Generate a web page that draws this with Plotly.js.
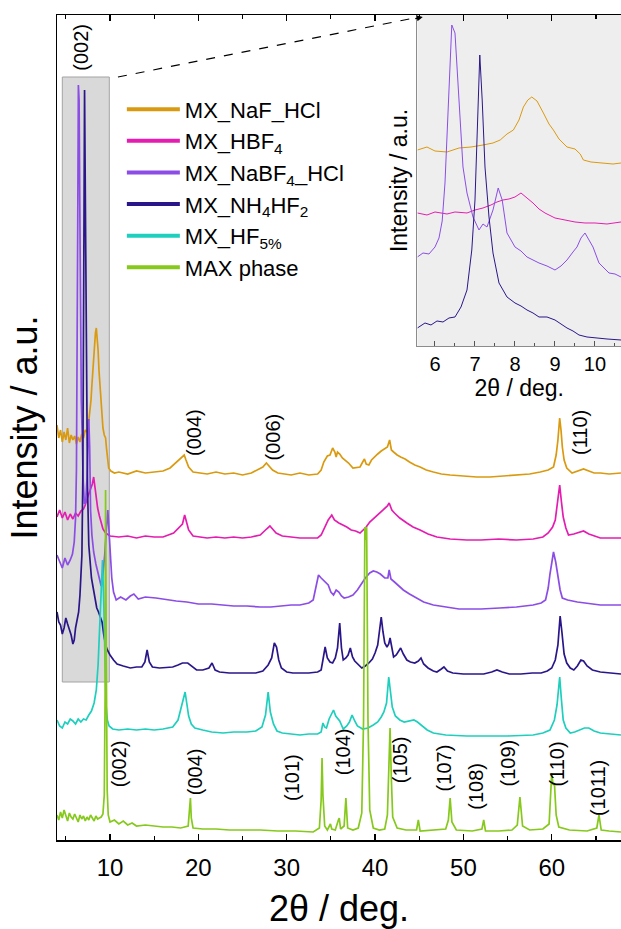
<!DOCTYPE html>
<html><head><meta charset="utf-8">
<script src="https://cdn.plot.ly/plotly-3.0.1.min.js"></script>
<style>html,body{margin:0;padding:0;background:#fff}#chart{width:621px;height:929px}</style>
</head><body><div id="chart"></div>
<script>
// ---------- main panel: 2θ (deg) and stacked intensity (a.u., offsets included) ----------
const tthNaF = [4.0,4.2,4.4,4.6,4.8,5.0,5.2,5.4,5.6,5.8,6.0,6.2,6.4,6.6,6.8,7.0,7.2,7.4,7.55,7.7,7.85,7.95,8.05,8.15,8.25,8.35,8.45,8.55,8.65,8.75,8.9,9.05,9.2,9.35,9.5,9.6,9.7,9.85,10.1,10.5,11,12,13,14,15,16,16.8,17.5,18.1,18.4,18.6,18.9,19.4,20,21,22,23,24,25,26,26.7,27.3,27.7,28.0,28.4,29.0,29.6,30.5,31.5,32.5,33.5,33.9,34.2,34.6,34.9,35.2,35.45,35.6,35.75,36.0,36.3,36.6,37.0,37.5,38.0,38.3,38.6,38.8,39.0,39.3,39.6,39.9,40.3,40.7,41.1,41.4,41.65,41.85,42.1,42.5,42.9,43.4,43.9,44.5,45.1,45.8,46.6,47.5,48.5,50,51.5,53,54.5,56,57.5,58.7,59.6,60.2,60.5,60.7,60.9,61.05,61.2,61.4,61.7,62.3,62.9,63.6,64.2,64.8,65.5,66.5,67.84];
const intNaF = [415,402,410,398,408,400,412,397,405,400,404,396,403,398,406,402,410,408,415,427,440,455,468,488,500,507,512,502,490,470,448,430,412,405,402,392,380,372,369,367,368,366,369,367,368,369,372,378,383,385,380,373,368,367,366,368,366,367,365,367,370,373,377,374,370,367,366,365,367,365,366,370,378,384,385,392,388,383,388,386,382,380,377,372,373,373,378,381,376,375,380,383,386,389,391,393,400,390,388,385,383,381,378,375,373,370,368,366,365,364,363,363,364,365,366,368,370,373,385,400,422,410,393,380,372,367,369,371,369,367,367,366,367];

const tthHBF4 = [4.0,4.3,4.6,4.9,5.2,5.5,5.8,6.1,6.4,6.7,7.0,7.2,7.4,7.6,7.8,8.0,8.15,8.3,8.45,8.6,8.8,9.0,9.2,9.5,10.0,11,12,13,14,15,16,17.2,17.8,18.2,18.45,18.65,18.9,19.4,20,21,22,23,24,25,26,27,27.6,28.1,28.4,28.8,29.5,30.5,31.5,32.5,33.5,33.9,34.3,34.7,35.1,35.4,35.9,36.4,36.8,37.3,37.8,38.3,38.7,39.0,39.4,39.9,40.5,41.0,41.4,41.6,41.9,42.2,42.8,43.6,44.3,45.1,46.0,47.0,48.5,50.4,52,54,56,57.9,59.0,59.6,60.1,60.4,60.7,60.9,61.1,61.3,61.6,61.9,62.5,63.2,63.6,64.2,65.5,66.5,67.84];
const intHBF4 = [323,330,322,328,320,326,321,327,324,329,331,335,341,346,351,356,363,352,343,332,324,316,311,307,304,303,304,302,304,303,303,307,312,316,325,318,310,304,303,302,303,302,303,302,303,305,310,314,311,307,304,303,302,302,302,305,313,320,325,320,317,315,313,310,309,307,310,313,318,322,327,331,334,337,330,327,322,317,313,310,306,303,301,300,300,301,300,301,303,307,313,320,340,355,338,323,312,305,306,308,309,306,302,302,302];

const tthNaBF4 = [4.0,4.3,4.6,4.9,5.2,5.5,5.75,5.95,6.1,6.2,6.28,6.35,6.42,6.5,6.58,6.66,6.75,6.85,6.95,7.1,7.25,7.4,7.52,7.6,7.7,7.8,7.95,8.15,8.4,8.7,9.0,9.2,9.4,9.6,9.75,9.85,10.0,10.2,10.4,10.7,11.2,11.8,12.3,12.7,13.2,14,15.2,16.5,17.5,18.7,20,21.5,22.5,24,25.5,27,28.2,29.5,30.5,31.5,32.5,33.0,33.3,33.6,33.9,34.1,34.4,34.7,35.0,35.3,35.6,35.9,36.2,36.5,37.0,37.5,38.0,38.5,38.9,39.4,39.8,40.2,40.6,41.1,41.45,41.6,41.8,42.2,42.7,43.2,43.9,44.7,45.5,46.6,48,49.5,50.4,52,54.1,56,57.9,58.8,59.3,59.6,59.8,60.0,60.2,60.45,60.7,60.95,61.2,61.8,62.9,64,65.5,66.7,67.84];
const intNaBF4 = [285,278,272,282,275,280,286,298,322,370,460,620,755,740,636,520,440,405,362,336,338,362,400,421,392,330,305,288,276,264,254,266,285,312,330,315,285,262,248,240,243,240,244,246,241,243,242,240,239,238,236,236,235,234,234,233,233,234,235,235,237,240,252,265,262,260,257,255,248,245,250,248,244,242,243,245,250,257,262,267,269,268,266,262,262,270,261,258,254,250,246,242,238,235,233,231,231,231,232,233,235,237,240,252,266,280,288,278,262,250,242,240,238,237,235,235,235];

const tthNH4HF2 = [4.0,4.2,4.4,4.6,4.8,5.0,5.2,5.4,5.6,5.8,5.95,6.1,6.25,6.45,6.6,6.72,6.82,6.92,7.0,7.06,7.12,7.18,7.25,7.35,7.45,7.6,7.75,7.9,8.1,8.3,8.5,8.7,8.9,9.1,9.3,9.5,9.7,10.0,10.4,10.8,11.5,12.3,13.0,13.6,13.95,14.2,14.45,14.8,15.6,16.5,17.1,17.7,18.2,18.8,19.3,19.8,20.5,21.2,21.55,21.9,22.4,23.5,24.5,25.5,26.5,27.3,27.9,28.3,28.6,28.85,29.1,29.4,30,30.7,31.5,32.5,33.5,33.9,34.1,34.35,34.6,34.9,35.2,35.5,35.75,36.0,36.2,36.4,36.7,36.95,37.2,37.45,37.7,38.1,38.5,38.9,39.3,39.7,40.0,40.3,40.55,40.7,40.9,41.1,41.35,41.55,41.7,41.9,42.1,42.4,42.65,42.9,43.2,43.6,44.0,44.5,44.9,45.2,45.5,46.0,46.6,47.0,47.5,47.8,48.2,48.8,50,51.2,52.3,53.2,53.8,54.4,55.2,56.5,57.8,58.8,59.5,60.0,60.4,60.7,60.95,61.15,61.4,61.7,62.1,62.5,62.9,63.3,63.6,64.0,64.6,65.5,66.5,67.84];
const intNH4HF2 = [228,218,215,206,212,222,216,210,205,196,200,212,218,228,245,262,285,361,461,627,750,661,527,427,355,295,272,262,252,241,232,228,222,218,205,195,190,185,180,176,174,172,173,173,178,190,178,173,172,173,173,175,177,177,173,170,170,172,177,170,168,167,167,167,167,169,175,182,197,193,180,172,168,167,167,167,168,170,180,193,182,178,177,182,192,217,192,180,182,185,192,183,179,175,172,174,177,181,187,195,210,223,208,197,193,196,202,190,183,185,188,192,186,180,178,177,179,182,176,172,169,168,171,173,169,167,166,166,166,168,170,168,166,166,167,167,169,172,180,195,224,208,186,177,172,170,174,180,179,174,170,168,167,166];

const tthHF5 = [4.0,4.3,4.6,4.9,5.2,5.5,5.8,6.1,6.4,6.7,7.0,7.3,7.6,7.9,8.2,8.45,8.65,8.85,9.0,9.15,9.3,9.42,9.55,9.7,9.9,10.3,11,12,13,14,15,16,17.1,17.7,18.1,18.35,18.5,18.7,18.9,19.2,19.6,20.5,21.5,22.8,24,25.5,26.5,27.2,27.6,27.9,28.15,28.5,28.9,29.5,30.5,31.5,32.5,33.5,33.9,34.1,34.3,34.5,34.8,35.05,35.3,35.55,35.8,36.0,36.4,36.8,37.1,37.4,37.7,38.0,38.6,39.2,39.8,40.3,40.7,41.0,41.3,41.55,41.75,41.95,42.3,42.8,43.3,43.9,44.4,44.8,45.2,45.9,46.6,48,50.4,52.5,55,57.9,59,59.8,60.3,60.6,60.9,61.1,61.3,61.6,62.1,62.6,63.2,63.7,64.2,64.8,65.5,66.5,67.84];
const intHF5 = [120,114,112,118,116,121,119,116,121,118,121,120,125,129,137,150,175,215,255,280,235,170,135,120,114,111,110,111,110,111,110,111,113,120,133,142,148,136,124,116,112,110,108,107,108,108,109,113,125,148,128,116,109,107,106,105,106,106,108,117,113,112,121,126,130,124,121,119,111,114,118,125,119,114,111,112,115,118,123,128,137,163,148,133,124,120,118,119,120,118,115,110,107,105,104,104,104,105,107,110,120,135,163,140,120,112,107,108,110,112,112,109,107,106,105];

const tthMAX = [4.0,4.2,4.4,4.6,4.8,5.0,5.2,5.4,5.6,5.8,6.0,6.2,6.4,6.6,6.8,7.0,7.2,7.4,7.6,7.8,8.0,8.2,8.4,8.6,8.8,9.0,9.2,9.35,9.45,9.5,9.58,9.68,9.8,10.0,10.5,11,11.5,12,12.5,13,14,15,16,17,18,18.85,19.0,19.1,19.2,19.4,20.5,22,23.5,25,27,29,31,33,33.7,33.9,34.0,34.1,34.3,34.6,34.95,35.1,35.5,35.85,35.95,36.1,36.5,36.7,36.9,37.5,38.1,38.5,38.7,38.85,38.95,39.05,39.2,39.4,39.8,40.5,41.1,41.4,41.55,41.7,41.85,42.0,42.5,43.5,44.7,44.9,45.1,46.5,48.0,48.3,48.5,48.7,49.2,51,52.1,52.3,52.5,54,55.5,56.1,56.4,56.7,57.5,59,59.7,60.0,60.15,60.3,60.5,60.8,62,64,65.1,65.35,65.6,66.5,67.84];
const intMAX = [25,20,28,22,30,24,19,27,23,21,26,22,18,25,21,24,19,23,20,25,22,19,24,21,22,23,26,45,150,350,180,50,25,18,20,16,19,15,17,14,15,14,13,13,12,14,30,42,22,12,11,11,10,10,10,9,9,8,12,40,82,45,14,10,16,11,10,20,22,11,14,42,12,10,12,27,120,313,300,313,120,30,12,10,11,25,70,112,60,23,12,10,10,20,9,10,11,20,42,18,10,9,11,20,9,9,10,15,43,14,10,11,16,67,55,57,25,13,10,9,12,25,10,9,8];

// ---------- inset: 2θ 5.5–10.7 deg ----------
const tthInNaF = [5.56,5.8,6.0,6.3,6.6,6.9,7.2,7.45,7.63,7.8,7.96,8.1,8.21,8.32,8.42,8.55,8.71,8.85,8.96,9.1,9.3,9.5,9.63,9.71,9.9,10.2,10.45,10.65];
const intInNaF = [196,199,195,194,198,199,201,203,206,212,216,226,239,246,249,245,233,222,216,207,199,197,192,186,184,183,182,183];
const tthInHBF4 = [5.56,5.8,6.0,6.3,6.5,6.8,7.0,7.2,7.4,7.55,7.7,7.85,8.0,8.15,8.3,8.45,8.6,8.75,9.0,9.25,9.5,9.75,10.0,10.3,10.65];
const intInHBF4 = [133,131,134,132,134,133,136,138,141,144,146,147,149,153,148,143,137,133,128,126,124,123,123,122,124];
const tthInNaBF4 = [5.56,5.7,5.85,6.0,6.1,6.18,6.25,6.33,6.42,6.5,6.58,6.7,6.8,6.95,7.1,7.2,7.3,7.45,7.58,7.68,7.8,8.0,8.15,8.3,8.45,8.6,8.8,9.0,9.15,9.3,9.45,9.55,9.65,9.75,9.85,9.95,10.1,10.35,10.5,10.65];
const intInNaBF4 = [89,93,92,99,108,125,163,246,321,313,263,179,153,129,116,122,119,136,158,146,113,99,95,89,86,83,80,76,80,86,94,99,108,113,106,99,83,73,72,69];
const tthInNH4HF2 = [5.56,5.75,5.9,6.05,6.2,6.35,6.5,6.65,6.8,6.92,7.0,7.06,7.12,7.18,7.25,7.35,7.45,7.6,7.8,8.0,8.15,8.3,8.45,8.6,8.8,9.0,9.15,9.3,9.45,9.6,9.8,10.0,10.3,10.65];
const intInNH4HF2 = [18,23,21,25,24,28,29,39,56,96,146,229,291,246,179,129,93,63,49,43,40,36,33,29,29,26,22,18,15,11,9,8,7,6];

// ---------- labels ----------
const seriesNames = ['MX_NaF_HCl','MX_HBF<sub>4</sub>','MX_NaBF<sub>4</sub>_HCl','MX_NH<sub>4</sub>HF<sub>2</sub>','MX_HF<sub>5%</sub>','MAX phase'];
const seriesColors = ['#DA9A10','#E41DB0','#8B4DE6','#2B1689','#1ECFBE','#86C91C'];
const topLabels = ['(002)','(004)','(006)','(110)'];
const topLabelPos = [[6.69,793],[19.5,408],[28.5,403],[63.2,407]];
const maxLabels = ['(002)','(004)','(101)','(104)','(105)','(107)','(108)','(109)','(110)','(1011)'];
const maxLabelPos = [[11.05,76],[19.65,68],[30.6,62],[36.4,88],[42.85,80],[47.85,72],[51.4,54],[55.1,77],[60.55,76],[65.25,52]];

const mainX = [tthNaF,tthHBF4,tthNaBF4,tthNH4HF2,tthHF5,tthMAX];
const mainY = [intNaF,intHBF4,intNaBF4,intNH4HF2,intHF5,intMAX];
const inX = [tthInNaF,tthInHBF4,tthInNaBF4,tthInNH4HF2];
const inY = [intInNaF,intInHBF4,intInNaBF4,intInNH4HF2];

const FONT = 'Liberation Sans, Arial, Helvetica, sans-serif';
const traces = [];
// legend entries (thick lines)
seriesNames.forEach((n,i)=>traces.push({x:[null],y:[null],type:'scatter',mode:'lines',name:n,
  line:{color:seriesColors[i],width:4},xaxis:'x',yaxis:'y',hoverinfo:'skip'}));
mainX.forEach((xs,i)=>traces.push({x:xs,y:mainY[i],type:'scatter',mode:'lines',name:seriesNames[i],
  showlegend:false,line:{color:seriesColors[i],width:1.7},xaxis:'x',yaxis:'y'}));
inX.forEach((xs,i)=>traces.push({x:xs,y:inY[i],type:'scatter',mode:'lines',name:seriesNames[i],
  showlegend:false,line:{color:seriesColors[i],width:1},xaxis:'x2',yaxis:'y2'}));

const annotations = [];
topLabels.forEach((t,i)=>annotations.push({x:topLabelPos[i][0],y:topLabelPos[i][1],xref:'x',yref:'y',text:t,
  showarrow:false,textangle:-90,font:{size:20,family:FONT,color:'#000'},xanchor:'center',yanchor:'middle'}));
maxLabels.forEach((t,i)=>annotations.push({x:maxLabelPos[i][0],y:maxLabelPos[i][1],xref:'x',yref:'y',text:t,
  showarrow:false,textangle:-90,font:{size:20,family:FONT,color:'#000'},xanchor:'center',yanchor:'middle'}));
// arrow head of the zoom connector
annotations.push({x:45.4,y:823,xref:'x',yref:'y',ax:-9,ay:2,axref:'pixel',ayref:'pixel',text:'',
  showarrow:true,arrowhead:2,arrowsize:1,arrowwidth:1.2,arrowcolor:'#000'});

const layout = {
  width:621,height:929,
  margin:{l:57,r:0,t:15,b:89},
  paper_bgcolor:'#ffffff',plot_bgcolor:'rgba(0,0,0,0)',
  font:{family:FONT,color:'#000'},
  showlegend:true,
  legend:{x:0.115,y:0.911,xanchor:'left',yanchor:'top',bgcolor:'rgba(0,0,0,0)',borderwidth:0,
    font:{size:22,family:FONT,color:'#000'},itemwidth:53,tracegroupgap:0},
  xaxis:{domain:[0,1],anchor:'y',range:[4,67.84],showline:true,linecolor:'#000',linewidth:1.5,mirror:'ticks',
    ticks:'inside',ticklen:6,tickwidth:1.2,tickcolor:'#000',tick0:0,dtick:10,ticklabelstandoff:6,
    minor:{ticks:'inside',dtick:5,ticklen:4,tickwidth:1.2,tickcolor:'#000'},
    tickfont:{size:24,family:FONT,color:'#000'},showgrid:false,zeroline:false,
    title:{text:'2θ / deg.',font:{size:36,family:FONT,color:'#000'},standoff:25}},
  yaxis:{domain:[0,1],anchor:'x',range:[0,825],showline:true,linecolor:'#000',linewidth:1.5,mirror:false,
    ticks:'',showticklabels:false,showgrid:false,zeroline:false,
    title:{text:'Intensity / a.u.',font:{size:36,family:FONT,color:'#000'},standoff:7}},
  xaxis2:{domain:[0.639,1],anchor:'y2',range:[5.56,10.65],showline:true,linecolor:'#8c8c8c',linewidth:1,
    ticks:'inside',ticklen:5,tickwidth:1,tickcolor:'#555',tick0:0,dtick:1,
    minor:{ticks:'inside',dtick:0.5,ticklen:3,tickwidth:1,tickcolor:'#555'},
    tickfont:{size:20,family:FONT,color:'#000'},showgrid:false,zeroline:false,
    title:{text:'2θ / deg.',font:{size:23,family:FONT,color:'#000'},standoff:2}},
  yaxis2:{domain:[0.5988,1],anchor:'x2',range:[0,331],showline:true,linecolor:'#8c8c8c',linewidth:1,
    ticks:'',showticklabels:false,showgrid:false,zeroline:false,
    title:{text:'Intensity / a.u.',font:{size:23,family:FONT,color:'#000'},standoff:2}},
  shapes:[
    {type:'rect',xref:'paper',yref:'paper',x0:0.639,x1:1,y0:0.5988,y1:1,fillcolor:'#eeeeee',line:{width:0},layer:'below'},
    {type:'rect',xref:'x',yref:'y',x0:4.6,x1:9.92,y0:158,y1:763,fillcolor:'#d9d9d9',line:{color:'#a3a3a3',width:1},layer:'below'},
    {type:'line',xref:'x',yref:'y',x0:10.9,y0:763,x1:45.0,y1:823,line:{color:'#000',width:1.2,dash:'dash'},layer:'above'}
  ],
  annotations:annotations
};
Plotly.newPlot('chart',traces,layout,{displayModeBar:false,staticPlot:true});
</script></body></html>
